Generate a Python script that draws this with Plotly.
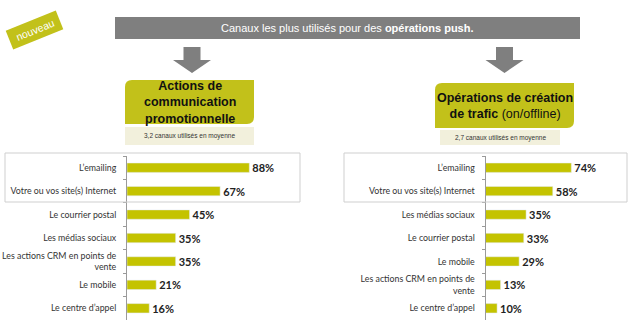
import plotly.graph_objects as go
import math

W, H = 630, 333

cats_left = ["L’emailing", "Votre ou vos site(s) Internet", "Le courrier postal",
             "Les médias sociaux", "Les actions CRM en points de<br>vente",
             "Le mobile", "Le centre d’appel"]
vals_left = [88, 67, 45, 35, 35, 21, 16]

cats_right = ["L’emailing", "Votre ou vos site(s) Internet", "Les médias sociaux",
              "Le courrier postal", "Le mobile",
              "Les actions CRM en points de<br>vente", "Le centre d’appel"]
vals_right = [74, 58, 35, 33, 29, 13, 10]

title_left = "<b>Actions de<br>communication<br>promotionnelle</b>"
title_right = "<b>Opérations de création<br>de trafic</b> (on/offline)"
sub_left = "3,2 canaux utilisés en moyenne"
sub_right = "2,7 canaux utilisés en moyenne"
banner = "Canaux les plus utilisés pour des <b>opérations push.</b>"

BAR = "#c4c300"
GREEN = "#c2c11a"
GREY = "#7f7f7f"
FONT = "Lato"


def px(x):
    return x / W


def py(y):
    return 1 - y / H


fig = go.Figure()
fig.add_trace(go.Bar(
    x=vals_left, y=cats_left, orientation="h", marker_color=BAR,
    text=[f"<b>{v}%</b>" for v in vals_left], textposition="outside",
    constraintext="none",
    textfont=dict(family=FONT, size=11, color="#222"), cliponaxis=False,
    xaxis="x", yaxis="y", hoverinfo="skip"))
fig.add_trace(go.Bar(
    x=vals_right, y=cats_right, orientation="h", marker_color=BAR,
    text=[f"<b>{v}%</b>" for v in vals_right], textposition="outside",
    constraintext="none",
    textfont=dict(family=FONT, size=11, color="#222"), cliponaxis=False,
    xaxis="x2", yaxis="y2", hoverinfo="skip"))

ydom = [py(320), py(156)]
xcommon = dict(range=[0, 100], showgrid=False, showticklabels=False,
               zeroline=False, showline=False, fixedrange=True)
ycommon = dict(autorange="reversed", showline=True, linecolor="#9a9a9a",
               linewidth=1, ticks="outside", tickson="boundaries", ticklen=3,
               tickcolor="#9a9a9a", showgrid=False, domain=ydom,
               tickfont=dict(family=FONT, size=8.8, color="#333"),
               ticklabelstandoff=8, type="category")

fig.update_layout(
    width=W, height=H, margin=dict(l=0, r=0, t=0, b=0),
    paper_bgcolor="white", plot_bgcolor="white", showlegend=False,
    bargap=0.6,
    xaxis=dict(domain=[px(127), px(127 + 139)], anchor="y", **xcommon),
    yaxis=dict(anchor="x", **ycommon),
    xaxis2=dict(domain=[px(485.5), px(485.5 + 116)], anchor="y2", **xcommon),
    yaxis2=dict(anchor="x2", **ycommon),
)

shapes = []
annots = []


def text(x, y, t, size, color, family="Liberation Sans", angle=0):
    annots.append(dict(x=px(x), y=py(y), xref="paper", yref="paper",
                       xanchor="center", yanchor="middle", text=t,
                       showarrow=False, textangle=angle,
                       font=dict(family=family, size=size, color=color)))


def rect(x0, y0, x1, y1, fill, line=None):
    shapes.append(dict(type="rect", xref="paper", yref="paper",
                       x0=px(x0), x1=px(x1), y0=py(y1), y1=py(y0),
                       fillcolor=fill, line=dict(width=1 if line else 0,
                                                 color=line or fill),
                       layer="below"))


def rounded(x0, y0, x1, y1, r, fill):
    pts = (f"M {px(x0)},{py(y0 + r)} Q {px(x0)},{py(y0)} {px(x0 + r)},{py(y0)} "
           f"L {px(x1)},{py(y0)} L {px(x1)},{py(y1 - r)} "
           f"Q {px(x1)},{py(y1)} {px(x1 - r)},{py(y1)} L {px(x0)},{py(y1)} Z")
    shapes.append(dict(type="path", xref="paper", yref="paper", path=pts,
                       fillcolor=fill, line=dict(width=0), layer="below"))


def arrow(cx, y0, y1, ymid, sw, hw):
    p = (f"M {px(cx - sw)},{py(y0)} L {px(cx + sw)},{py(y0)} L {px(cx + sw)},{py(ymid)} "
         f"L {px(cx + hw)},{py(ymid)} L {px(cx)},{py(y1)} L {px(cx - hw)},{py(ymid)} "
         f"L {px(cx - sw)},{py(ymid)} Z")
    shapes.append(dict(type="path", xref="paper", yref="paper", path=p,
                       fillcolor=GREY, line=dict(width=0)))


# banner
rect(115, 17, 580, 39, GREY)
text(347, 28, banner, 11, "white")

# arrows
arrow(192, 47, 73, 60, 8.5, 19)
arrow(504.5, 47, 73, 60, 8.5, 19)

# left header
rounded(125, 80, 254, 124, 7, GREEN)
rect(125, 127, 254, 145, "#f2f0dc")
text(189.5, 102, title_left, 12.5, "#111")
text(189.5, 136, sub_left, 6.5, "#333")

# right header
rounded(435, 83, 574, 128, 7, GREEN)
rect(440, 130, 560, 145, "#f2f0dc")
text(504.5, 106, title_right, 12.5, "#111")
text(500, 137.5, sub_right, 6.5, "#333")

# boxes around top two rows
shapes.append(dict(type="rect", xref="paper", yref="paper",
                   x0=px(5), x1=px(300), y0=py(202), y1=py(153),
                   line=dict(color="#cfcfcf", width=1), fillcolor="rgba(0,0,0,0)"))
shapes.append(dict(type="rect", xref="paper", yref="paper",
                   x0=px(344), x1=px(627), y0=py(202), y1=py(153),
                   line=dict(color="#cfcfcf", width=1), fillcolor="rgba(0,0,0,0)"))

# nouveau badge (rotated rect)
cx, cy, bw, bh, ang = 34.5, 30, 54, 20, math.radians(-22)
corners = [(-bw / 2, -bh / 2), (bw / 2, -bh / 2), (bw / 2, bh / 2), (-bw / 2, bh / 2)]
pts = []
for dx, dy in corners:
    rx = cx + dx * math.cos(ang) - dy * math.sin(ang)
    ry = cy + dx * math.sin(ang) + dy * math.cos(ang)
    pts.append(f"{px(rx)},{py(ry)}")
shapes.append(dict(type="path", xref="paper", yref="paper",
                   path="M " + " L ".join(pts) + " Z",
                   fillcolor=GREEN, line=dict(width=0)))
text(cx, cy, "nouveau", 10.5, "white", angle=-22)

fig.update_layout(shapes=shapes, annotations=annots)
fig.write_html("out.html")
